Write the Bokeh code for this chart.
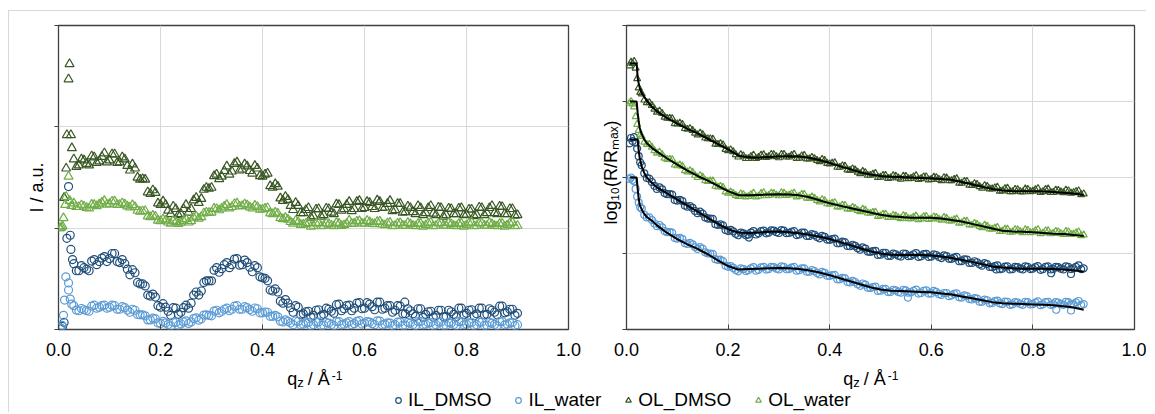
import numpy as np
from bokeh.plotting import figure
from bokeh.models import (ColumnDataSource, FixedTicker, NumeralTickFormatter, Label,
                          Legend, LegendItem, Range1d, CustomJSTickFormatter)
from bokeh.layouts import row, column
from bokeh.embed import file_html
from bokeh.resources import INLINE

# ------------------------------------------------------------------ data
SERIES = ["IL_DMSO", "IL_water", "OL_DMSO", "OL_water"]
X_TICKS = [0.0, 0.2, 0.4, 0.6, 0.8, 1.0]
LEFT_Y_TICKS = [0, 1, 2, 3]
RIGHT_Y_TICKS = [0, 1, 2, 3, 4]

Q_BAND = [0.03, 0.04, 0.05, 0.06, 0.07, 0.08, 0.09, 0.10,
          0.11, 0.12, 0.13, 0.14, 0.15, 0.16, 0.17, 0.18,
          0.19, 0.20, 0.21, 0.22, 0.23, 0.24, 0.25, 0.26,
          0.27, 0.28, 0.29, 0.30, 0.31, 0.32, 0.33, 0.34,
          0.35, 0.36, 0.37, 0.38, 0.39, 0.40, 0.41, 0.42,
          0.43, 0.44, 0.45, 0.46, 0.47, 0.48, 0.49, 0.50,
          0.51, 0.52, 0.53, 0.54, 0.55, 0.56, 0.57, 0.58,
          0.59, 0.60, 0.61, 0.62, 0.63, 0.64, 0.65, 0.66,
          0.67, 0.68, 0.69, 0.70, 0.71, 0.72, 0.73, 0.74,
          0.75, 0.76, 0.77, 0.78, 0.79, 0.80, 0.81, 0.82,
          0.83, 0.84, 0.85, 0.86, 0.87, 0.88, 0.89, 0.90]
Q_BAND2 = [0.035, 0.045, 0.055, 0.065, 0.075, 0.085, 0.095, 0.105,
           0.115, 0.125, 0.135, 0.145, 0.155, 0.165, 0.175, 0.185,
           0.195, 0.205, 0.215, 0.225, 0.235, 0.245, 0.255, 0.265,
           0.275, 0.285, 0.295, 0.305, 0.315, 0.325, 0.335, 0.345,
           0.355, 0.365, 0.375, 0.385, 0.395, 0.405, 0.415, 0.425,
           0.435, 0.445, 0.455, 0.465, 0.475, 0.485, 0.495, 0.505,
           0.515, 0.525, 0.535, 0.545, 0.555, 0.565, 0.575, 0.585,
           0.595, 0.605, 0.615, 0.625, 0.635, 0.645, 0.655, 0.665,
           0.675, 0.685, 0.695, 0.705, 0.715, 0.725, 0.735, 0.745,
           0.755, 0.765, 0.775, 0.785, 0.795, 0.805, 0.815, 0.825,
           0.835, 0.845, 0.855, 0.865, 0.875, 0.885, 0.895]

# ---- left panel (I / a.u.)
L_IL_DMSO_Q_LOW = [0.005, 0.008, 0.011, 0.0164, 0.0197, 0.023, 0.0243, 0.0275, 0.679]
L_IL_DMSO_I_LOW = [0.01, 0.03, 0.07, 0.90, 1.41, 0.93, 0.79, 0.69, 0.27]
L_IL_DMSO_I = [0.65, 0.58, 0.61, 0.58, 0.69, 0.67, 0.72, 0.70,
               0.75, 0.66, 0.65, 0.54, 0.56, 0.45, 0.43, 0.33,
               0.32, 0.22, 0.22, 0.14, 0.21, 0.17, 0.24, 0.26,
               0.37, 0.38, 0.48, 0.48, 0.61, 0.60, 0.66, 0.64,
               0.70, 0.64, 0.66, 0.57, 0.61, 0.51, 0.48, 0.38,
               0.37, 0.26, 0.26, 0.17, 0.22, 0.155, 0.18, 0.14,
               0.195, 0.15, 0.20, 0.16, 0.25, 0.205, 0.24, 0.21,
               0.265, 0.21, 0.25, 0.195, 0.27, 0.21, 0.235, 0.19,
               0.23, 0.155, 0.185, 0.13, 0.205, 0.15, 0.18, 0.14,
               0.19, 0.13, 0.175, 0.125, 0.21, 0.16, 0.195, 0.155,
               0.21, 0.15, 0.19, 0.145, 0.23, 0.175, 0.20, 0.16]
L_IL_DMSO_I2 = [0.58, 0.63, 0.595, 0.675, 0.64, 0.705, 0.67, 0.75,
                0.67, 0.69, 0.595, 0.59, 0.465, 0.45, 0.34, 0.35,
                0.235, 0.255, 0.18, 0.215, 0.15, 0.215, 0.21, 0.34,
                0.34, 0.465, 0.48, 0.585, 0.565, 0.64, 0.61, 0.695,
                0.635, 0.685, 0.615, 0.63, 0.52, 0.505, 0.39, 0.40,
                0.28, 0.295, 0.215, 0.235, 0.145, 0.175, 0.12, 0.19,
                0.135, 0.21, 0.18, 0.245, 0.185, 0.235, 0.185, 0.26,
                0.205, 0.265, 0.225, 0.27, 0.20, 0.235, 0.17, 0.235,
                0.155, 0.205, 0.155, 0.205, 0.12, 0.175, 0.12, 0.19,
                0.125, 0.19, 0.15, 0.21, 0.145, 0.19, 0.135, 0.21,
                0.145, 0.205, 0.17, 0.23, 0.165, 0.20, 0.14]

L_IL_WATER_Q_LOW = [0.003, 0.005, 0.007, 0.0098, 0.0118, 0.0144, 0.0197, 0.0197, 0.023, 0.026]
L_IL_WATER_I_LOW = [0.02, 0.01, 0.04, 0.14, 0.29, 0.52, 0.46, 0.39, 0.30, 0.25]
L_IL_WATER_I = [0.235, 0.185, 0.195, 0.18, 0.24, 0.22, 0.24, 0.22,
                0.235, 0.20, 0.215, 0.17, 0.19, 0.145, 0.135, 0.095,
                0.105, 0.06, 0.065, 0.035, 0.07, 0.055, 0.085, 0.075,
                0.115, 0.105, 0.145, 0.135, 0.19, 0.18, 0.21, 0.20,
                0.235, 0.20, 0.215, 0.18, 0.205, 0.165, 0.17, 0.13,
                0.125, 0.075, 0.081, 0.048, 0.08, 0.053, 0.068, 0.048,
                0.073, 0.043, 0.063, 0.038, 0.078, 0.053, 0.078, 0.058,
                0.088, 0.063, 0.073, 0.048, 0.083, 0.053, 0.063, 0.048,
                0.073, 0.043, 0.063, 0.038, 0.078, 0.053, 0.068, 0.048,
                0.073, 0.043, 0.063, 0.038, 0.078, 0.053, 0.068, 0.048,
                0.073, 0.043, 0.063, 0.038, 0.078, 0.053, 0.068, 0.048]
L_IL_WATER_I2 = [0.192, 0.207, 0.187, 0.23, 0.21, 0.235, 0.21, 0.24,
                 0.20, 0.225, 0.192, 0.20, 0.148, 0.145, 0.095, 0.112,
                 0.065, 0.08, 0.05, 0.072, 0.043, 0.075, 0.06, 0.108,
                 0.092, 0.142, 0.14, 0.182, 0.165, 0.20, 0.185, 0.23,
                 0.20, 0.225, 0.197, 0.212, 0.165, 0.173, 0.13, 0.14,
                 0.082, 0.095, 0.064, 0.084, 0.047, 0.066, 0.038, 0.073,
                 0.04, 0.07, 0.05, 0.078, 0.046, 0.066, 0.046, 0.081,
                 0.054, 0.078, 0.058, 0.086, 0.046, 0.066, 0.038, 0.073,
                 0.04, 0.07, 0.05, 0.078, 0.046, 0.066, 0.038, 0.073,
                 0.04, 0.07, 0.05, 0.078, 0.046, 0.066, 0.038, 0.073,
                 0.04, 0.07, 0.05, 0.078, 0.046, 0.066, 0.038]

L_OL_DMSO_Q_LOW = [0.011, 0.015, 0.0164, 0.0197, 0.0216, 0.0243, 0.0262]
L_OL_DMSO_I_LOW = [1.30, 1.59, 1.92, 2.47, 2.62, 1.92, 1.79]
L_OL_DMSO_I = [1.68, 1.62, 1.67, 1.62, 1.70, 1.66, 1.74, 1.67,
               1.73, 1.65, 1.68, 1.57, 1.59, 1.48, 1.48, 1.34,
               1.35, 1.23, 1.23, 1.14, 1.19, 1.14, 1.23, 1.19,
               1.30, 1.29, 1.40, 1.40, 1.53, 1.51, 1.61, 1.56,
               1.65, 1.58, 1.61, 1.54, 1.59, 1.51, 1.54, 1.40,
               1.41, 1.27, 1.28, 1.18, 1.22, 1.15, 1.20, 1.12,
               1.19, 1.13, 1.19, 1.14, 1.23, 1.19, 1.26, 1.19,
               1.27, 1.20, 1.25, 1.19, 1.26, 1.205, 1.27, 1.18,
               1.24, 1.16, 1.20, 1.14, 1.20, 1.15, 1.22, 1.13,
               1.20, 1.13, 1.19, 1.14, 1.20, 1.135, 1.185, 1.13,
               1.20, 1.15, 1.22, 1.14, 1.21, 1.14, 1.19, 1.13]
L_OL_DMSO_I2 = [1.605, 1.68, 1.635, 1.71, 1.645, 1.705, 1.65, 1.73,
                1.645, 1.70, 1.615, 1.63, 1.50, 1.485, 1.355, 1.375,
                1.245, 1.265, 1.175, 1.215, 1.13, 1.19, 1.155, 1.275,
                1.25, 1.38, 1.39, 1.515, 1.485, 1.565, 1.53, 1.635,
                1.57, 1.63, 1.565, 1.615, 1.515, 1.53, 1.415, 1.435,
                1.295, 1.31, 1.22, 1.25, 1.15, 1.18, 1.105, 1.185,
                1.115, 1.195, 1.155, 1.235, 1.175, 1.23, 1.17, 1.26,
                1.19, 1.26, 1.21, 1.275, 1.20, 1.24, 1.17, 1.24,
                1.155, 1.215, 1.16, 1.22, 1.13, 1.20, 1.145, 1.205,
                1.115, 1.195, 1.14, 1.195, 1.13, 1.185, 1.12, 1.205,
                1.13, 1.20, 1.15, 1.215, 1.14, 1.19, 1.125]

L_OL_WATER_Q_LOW = [0.002, 0.004, 0.006, 0.008, 0.0098, 0.0131, 0.0151, 0.0197, 0.022, 0.025]
L_OL_WATER_I_LOW = [1.00, 1.00, 1.01, 1.02, 1.10, 1.23, 1.31, 1.51, 1.27, 1.22]
L_OL_WATER_I = [1.245, 1.21, 1.215, 1.195, 1.23, 1.235, 1.27, 1.24,
                1.265, 1.23, 1.235, 1.205, 1.21, 1.165, 1.17, 1.11,
                1.115, 1.07, 1.075, 1.045, 1.06, 1.055, 1.09, 1.07,
                1.115, 1.11, 1.155, 1.155, 1.19, 1.195, 1.23, 1.21,
                1.245, 1.22, 1.225, 1.195, 1.21, 1.185, 1.20, 1.14,
                1.145, 1.09, 1.085, 1.045, 1.06, 1.035, 1.05, 1.025,
                1.05, 1.025, 1.04, 1.02, 1.045, 1.03, 1.075, 1.045,
                1.07, 1.045, 1.06, 1.04, 1.065, 1.03, 1.055, 1.025,
                1.05, 1.025, 1.04, 1.02, 1.045, 1.03, 1.055, 1.025,
                1.05, 1.025, 1.04, 1.02, 1.045, 1.03, 1.055, 1.025,
                1.05, 1.025, 1.04, 1.02, 1.045, 1.03, 1.055, 1.025]
L_OL_WATER_I2 = [1.21, 1.227, 1.202, 1.233, 1.218, 1.253, 1.232, 1.264,
                 1.23, 1.247, 1.217, 1.228, 1.173, 1.168, 1.117, 1.124,
                 1.075, 1.087, 1.057, 1.073, 1.043, 1.073, 1.057, 1.104,
                 1.095, 1.147, 1.152, 1.193, 1.178, 1.213, 1.197, 1.239,
                 1.215, 1.237, 1.207, 1.223, 1.183, 1.193, 1.147, 1.154,
                 1.10, 1.102, 1.062, 1.073, 1.033, 1.043, 1.015, 1.049,
                 1.02, 1.047, 1.027, 1.053, 1.023, 1.043, 1.043, 1.067,
                 1.047, 1.073, 1.043, 1.063, 1.037, 1.049, 1.02, 1.047,
                 1.027, 1.053, 1.023, 1.043, 1.017, 1.049, 1.02, 1.047,
                 1.027, 1.053, 1.023, 1.043, 1.017, 1.049, 1.02, 1.047,
                 1.027, 1.053, 1.023, 1.043, 1.017, 1.049, 1.02]

# ---- right panel (log10(R/Rmax), offset curves)
R_Q_LOW = [0.006, 0.009, 0.012, 0.015, 0.018, 0.021, 0.024, 0.027]

R_OL_DMSO_LOW = [3.47, 3.52, 3.50, 3.53, 3.44, 3.30, 3.18, 3.12]
R_OL_DMSO = [3.10, 2.985, 2.95, 2.86, 2.845, 2.78, 2.775, 2.705,
             2.70, 2.635, 2.62, 2.56, 2.565, 2.51, 2.505, 2.435,
             2.43, 2.355, 2.34, 2.27, 2.285, 2.25, 2.295, 2.265,
             2.30, 2.275, 2.30, 2.26, 2.305, 2.27, 2.305, 2.255,
             2.29, 2.245, 2.25, 2.21, 2.225, 2.18, 2.195, 2.135,
             2.15, 2.095, 2.10, 2.05, 2.065, 2.03, 2.055, 2.005,
             2.03, 1.995, 2.02, 1.98, 2.015, 1.99, 2.025, 1.985,
             2.01, 1.975, 2.00, 1.96, 1.995, 1.96, 1.985, 1.925,
             1.95, 1.895, 1.91, 1.86, 1.885, 1.85, 1.875, 1.825,
             1.86, 1.815, 1.84, 1.81, 1.845, 1.82, 1.855, 1.815,
             1.85, 1.805, 1.83, 1.80, 1.825, 1.80, 1.825, 1.785]
R_OL_DMSO2 = [3.02, 2.985, 2.90, 2.875, 2.795, 2.78, 2.71, 2.715,
              2.645, 2.645, 2.585, 2.585, 2.52, 2.51, 2.44, 2.445,
              2.37, 2.365, 2.30, 2.30, 2.25, 2.275, 2.25, 2.295,
              2.265, 2.305, 2.275, 2.305, 2.27, 2.29, 2.25, 2.285,
              2.245, 2.265, 2.225, 2.24, 2.185, 2.19, 2.135, 2.155,
              2.10, 2.115, 2.07, 2.08, 2.03, 2.045, 2.00, 2.03,
              1.99, 2.025, 1.995, 2.02, 1.985, 2.01, 1.975, 2.01,
              1.97, 2.005, 1.975, 2.00, 1.96, 1.975, 1.925, 1.95,
              1.90, 1.92, 1.88, 1.895, 1.85, 1.865, 1.82, 1.855,
              1.815, 1.845, 1.815, 1.85, 1.815, 1.84, 1.805, 1.845,
              1.805, 1.835, 1.81, 1.835, 1.795, 1.815, 1.775]

R_OL_WATER_LOW = [2.98, 3.00, 2.97, 2.93, 2.80, 2.70, 2.62, 2.56]
R_OL_WATER = [2.54, 2.435, 2.40, 2.32, 2.305, 2.24, 2.235, 2.155,
              2.15, 2.075, 2.07, 2.00, 2.005, 1.95, 1.955, 1.875,
              1.87, 1.795, 1.79, 1.75, 1.775, 1.75, 1.795, 1.755,
              1.80, 1.765, 1.79, 1.76, 1.795, 1.77, 1.795, 1.755,
              1.78, 1.725, 1.73, 1.68, 1.695, 1.65, 1.67, 1.615,
              1.635, 1.585, 1.595, 1.55, 1.57, 1.53, 1.545, 1.495,
              1.52, 1.475, 1.495, 1.46, 1.49, 1.46, 1.495, 1.455,
              1.49, 1.455, 1.475, 1.44, 1.465, 1.43, 1.455, 1.405,
              1.425, 1.375, 1.385, 1.34, 1.36, 1.32, 1.345, 1.295,
              1.32, 1.285, 1.31, 1.275, 1.305, 1.28, 1.315, 1.27,
              1.30, 1.265, 1.285, 1.25, 1.285, 1.255, 1.285, 1.245]
R_OL_WATER2 = [2.465, 2.435, 2.355, 2.335, 2.255, 2.24, 2.165, 2.165,
               2.09, 2.09, 2.03, 2.025, 1.96, 1.955, 1.885, 1.885,
               1.81, 1.81, 1.765, 1.785, 1.745, 1.775, 1.745, 1.79,
               1.76, 1.795, 1.77, 1.80, 1.765, 1.785, 1.745, 1.78,
               1.73, 1.745, 1.70, 1.71, 1.655, 1.663, 1.613, 1.638,
               1.588, 1.608, 1.568, 1.583, 1.533, 1.54, 1.49, 1.52,
               1.475, 1.503, 1.473, 1.498, 1.458, 1.48, 1.445, 1.485,
               1.45, 1.483, 1.453, 1.475, 1.43, 1.445, 1.40, 1.428,
               1.378, 1.398, 1.358, 1.373, 1.323, 1.335, 1.29, 1.32,
               1.28, 1.315, 1.288, 1.313, 1.275, 1.30, 1.263, 1.298,
               1.26, 1.293, 1.263, 1.29, 1.253, 1.273, 1.235]

R_IL_DMSO_LOW = [2.45, 2.52, 2.48, 2.53, 2.46, 2.38, 2.28, 2.20]
R_IL_DMSO = [2.16, 1.995, 1.94, 1.85, 1.845, 1.78, 1.775, 1.695,
             1.69, 1.615, 1.60, 1.53, 1.525, 1.46, 1.455, 1.375,
             1.37, 1.295, 1.29, 1.24, 1.265, 1.25, 1.295, 1.265,
             1.30, 1.275, 1.30, 1.27, 1.30, 1.27, 1.295, 1.25,
             1.275, 1.23, 1.245, 1.20, 1.22, 1.18, 1.195, 1.135,
             1.15, 1.095, 1.10, 1.05, 1.065, 1.02, 1.035, 0.985,
             1.01, 0.97, 0.99, 0.96, 0.995, 0.97, 1.005, 0.965,
             0.995, 0.96, 0.98, 0.94, 0.965, 0.93, 0.955, 0.90,
             0.92, 0.875, 0.885, 0.84, 0.86, 0.82, 0.845, 0.80,
             0.83, 0.795, 0.82, 0.79, 0.825, 0.80, 0.835, 0.795,
             0.83, 0.795, 0.82, 0.79, 0.825, 0.805, 0.845, 0.805]
R_IL_DMSO2 = [2.055, 1.985, 1.89, 1.87, 1.795, 1.78, 1.705, 1.705,
              1.63, 1.625, 1.56, 1.55, 1.475, 1.46, 1.385, 1.385,
              1.31, 1.31, 1.26, 1.275, 1.24, 1.275, 1.25, 1.295,
              1.265, 1.305, 1.28, 1.308, 1.268, 1.285, 1.243, 1.275,
              1.23, 1.255, 1.218, 1.233, 1.183, 1.19, 1.135, 1.155,
              1.10, 1.115, 1.07, 1.08, 1.025, 1.03, 0.98, 1.01,
              0.968, 0.998, 0.97, 1.00, 0.965, 0.99, 0.955, 0.993,
              0.955, 0.988, 0.955, 0.975, 0.93, 0.945, 0.898, 0.923,
              0.875, 0.898, 0.858, 0.873, 0.823, 0.835, 0.793, 0.828,
              0.79, 0.825, 0.80, 0.83, 0.795, 0.82, 0.785, 0.825,
              0.79, 0.825, 0.80, 0.83, 0.795, 0.825, 0.795]
R_IL_DMSO_Q_EXTRA = [0.241, 0.728, 0.836, 0.875]
R_IL_DMSO_EXTRA = [1.21, 0.79, 0.74, 0.73]

R_IL_WATER_LOW = [1.98, 2.00, 1.97, 1.95, 1.85, 1.75, 1.67, 1.61]
R_IL_WATER = [1.59, 1.475, 1.44, 1.36, 1.345, 1.28, 1.275, 1.195,
              1.19, 1.125, 1.12, 1.06, 1.065, 1.00, 0.995, 0.915,
              0.90, 0.825, 0.81, 0.765, 0.795, 0.78, 0.82, 0.785,
              0.825, 0.795, 0.82, 0.79, 0.825, 0.795, 0.825, 0.78,
              0.805, 0.76, 0.77, 0.725, 0.745, 0.705, 0.72, 0.66,
              0.675, 0.62, 0.625, 0.575, 0.59, 0.545, 0.565, 0.51,
              0.535, 0.495, 0.515, 0.485, 0.515, 0.49, 0.525, 0.48,
              0.515, 0.475, 0.495, 0.455, 0.48, 0.45, 0.475, 0.42,
              0.44, 0.395, 0.405, 0.365, 0.385, 0.35, 0.38, 0.335,
              0.365, 0.33, 0.355, 0.325, 0.36, 0.335, 0.37, 0.33,
              0.365, 0.33, 0.355, 0.325, 0.36, 0.335, 0.375, 0.335]
R_IL_WATER2 = [1.51, 1.475, 1.395, 1.375, 1.295, 1.28, 1.205, 1.205,
               1.135, 1.14, 1.085, 1.085, 1.015, 1.00, 0.925, 0.92,
               0.84, 0.835, 0.783, 0.803, 0.77, 0.803, 0.773, 0.818,
               0.788, 0.825, 0.80, 0.83, 0.793, 0.813, 0.773, 0.805,
               0.76, 0.783, 0.743, 0.758, 0.708, 0.715, 0.66, 0.68,
               0.625, 0.64, 0.595, 0.605, 0.55, 0.558, 0.508, 0.535,
               0.493, 0.523, 0.495, 0.523, 0.485, 0.51, 0.473, 0.51,
               0.473, 0.508, 0.465, 0.48, 0.438, 0.47, 0.423, 0.448,
               0.40, 0.413, 0.365, 0.393, 0.345, 0.373, 0.343, 0.368,
               0.325, 0.36, 0.335, 0.365, 0.33, 0.355, 0.32, 0.36,
               0.325, 0.36, 0.335, 0.365, 0.33, 0.358, 0.325]
R_IL_WATER_Q_EXTRA = [0.554, 0.846, 0.875]
R_IL_WATER_EXTRA = [0.42, 0.26, 0.25]

FIT_Q = [0.007, 0.020, 0.022, 0.024, 0.026, 0.030, 0.035, 0.040, 0.050, 0.060,
         0.080, 0.100, 0.120, 0.140, 0.160, 0.180, 0.200, 0.220, 0.240, 0.260,
         0.280, 0.300, 0.320, 0.340, 0.360, 0.380, 0.400, 0.420, 0.440, 0.460,
         0.480, 0.500, 0.520, 0.540, 0.560, 0.580, 0.600, 0.620, 0.640, 0.660,
         0.680, 0.700, 0.720, 0.740, 0.760, 0.780, 0.800, 0.820, 0.840, 0.860,
         0.880, 0.900]
FIT_OL_DMSO = [3.50, 3.50, 3.31, 3.24, 3.18, 3.11, 3.06, 3.01, 2.93, 2.87,
               2.78, 2.71, 2.64, 2.58, 2.51, 2.44, 2.37, 2.29, 2.265, 2.26,
               2.27, 2.275, 2.28, 2.275, 2.26, 2.23, 2.19, 2.15, 2.11, 2.07,
               2.04, 2.02, 2.01, 2.005, 2.00, 1.995, 1.99, 1.98, 1.97, 1.94,
               1.91, 1.88, 1.85, 1.83, 1.82, 1.82, 1.82, 1.815, 1.81, 1.80,
               1.79, 1.77]
FIT_OL_WATER = [3.00, 3.00, 2.85, 2.74, 2.65, 2.57, 2.50, 2.45, 2.39, 2.34,
                2.25, 2.17, 2.09, 2.02, 1.96, 1.89, 1.82, 1.77, 1.765, 1.77,
                1.775, 1.78, 1.775, 1.765, 1.74, 1.70, 1.66, 1.63, 1.60, 1.57,
                1.54, 1.51, 1.49, 1.48, 1.47, 1.47, 1.47, 1.46, 1.44, 1.42,
                1.39, 1.36, 1.33, 1.30, 1.29, 1.285, 1.28, 1.27, 1.26, 1.255,
                1.245, 1.23]
FIT_IL_DMSO = [2.50, 2.50, 2.50, 2.35, 2.26, 2.14, 2.06, 2.00, 1.93, 1.87,
               1.79, 1.71, 1.63, 1.55, 1.47, 1.39, 1.32, 1.275, 1.27, 1.275,
               1.285, 1.29, 1.28, 1.265, 1.245, 1.22, 1.19, 1.15, 1.11, 1.07,
               1.03, 1.00, 0.985, 0.98, 0.98, 0.98, 0.975, 0.96, 0.94, 0.915,
               0.89, 0.86, 0.83, 0.815, 0.805, 0.80, 0.80, 0.80, 0.795, 0.79,
               0.78, 0.76]
FIT_IL_WATER = [2.00, 2.00, 1.85, 1.72, 1.64, 1.58, 1.52, 1.48, 1.43, 1.37,
                1.27, 1.19, 1.12, 1.06, 0.99, 0.91, 0.835, 0.79, 0.795, 0.80,
                0.805, 0.81, 0.805, 0.795, 0.775, 0.75, 0.715, 0.675, 0.635, 0.595,
                0.555, 0.525, 0.51, 0.505, 0.50, 0.495, 0.49, 0.475, 0.46, 0.435,
                0.41, 0.385, 0.36, 0.345, 0.34, 0.335, 0.33, 0.325, 0.32, 0.305,
                0.29, 0.26]

# ------------------------------------------------------------------ style
FONT = "Liberation Sans"
COLORS = {"IL_DMSO": "#1F4E79", "IL_water": "#5B9BD5",
          "OL_DMSO": "#385723", "OL_water": "#70AD47"}
MARKERS = {"IL_DMSO": "circle", "IL_water": "circle",
           "OL_DMSO": "triangle", "OL_water": "triangle"}
FRAME = "#404040"
GRID = "#d9d9d9"
STRIP_H = 48         # strip holding the x titles and the legend
NB = "\u00a0"


def style_panel(p, yticks, ylabel, label_standoff):
    p.outline_line_color = FRAME
    p.outline_line_width = 1.3
    p.xgrid.ticker = FixedTicker(ticks=[t for t in X_TICKS if 0 < t < 1])
    p.ygrid.ticker = FixedTicker(ticks=[t for t in yticks if 0 < t < yticks[-1]])
    p.grid.grid_line_color = GRID
    p.grid.grid_line_width = 1
    ax = p.xaxis[0]
    ax.ticker = FixedTicker(ticks=X_TICKS)
    ax.formatter = NumeralTickFormatter(format="0.0")
    ax.axis_line_color = None
    ax.major_tick_in = 5
    ax.major_tick_out = 0
    ax.major_tick_line_color = FRAME
    ax.minor_tick_line_color = None
    ax.major_label_text_font = FONT
    ax.major_label_text_font_size = "18px"
    ax.major_label_text_color = "black"
    ax.major_label_standoff = 13
    ay = p.yaxis[0]
    ay.ticker = FixedTicker(ticks=yticks)
    ay.formatter = CustomJSTickFormatter(code="return ''")
    ay.axis_line_color = None
    ay.major_tick_in = 0
    ay.major_tick_out = 4
    ay.major_tick_line_color = FRAME
    ay.minor_tick_line_color = None
    ay.major_label_standoff = 0
    ay.axis_label = ylabel
    ay.axis_label_text_font = FONT
    ay.axis_label_text_font_size = "18px"
    ay.axis_label_text_font_style = "normal"
    ay.axis_label_text_color = "black"
    ay.axis_label_standoff = label_standoff


def add_text(p, text, x, y, size):
    p.add_layout(Label(x=x, y=y, text=text, text_font=FONT, text_font_size=size,
                       text_color="black", text_align="left", text_baseline="alphabetic"))


def scatter(p, name, q, v, size):
    src = ColumnDataSource(data=dict(q=q, v=v))
    return p.scatter("q", "v", source=src, marker=MARKERS[name], size=size,
                     line_color=COLORS[name], fill_color=None, line_width=1.2)


# ------------------------------------------------------------------ left panel
p1 = figure(frame_width=510, frame_height=304, x_range=Range1d(0, 1), y_range=Range1d(0, 3),
            min_border_left=49, min_border_right=29, min_border_top=14, min_border_bottom=35,
            output_backend="svg", toolbar_location=None)
# trailing no-break spaces move the rotated title down, as in the original
style_panel(p1, LEFT_Y_TICKS, "I / a.u." + NB * 4, 8)

left_data = {
    "IL_DMSO": (L_IL_DMSO_Q_LOW + Q_BAND + Q_BAND2, L_IL_DMSO_I_LOW + L_IL_DMSO_I + L_IL_DMSO_I2),
    "IL_water": (L_IL_WATER_Q_LOW + Q_BAND + Q_BAND2, L_IL_WATER_I_LOW + L_IL_WATER_I + L_IL_WATER_I2),
    "OL_DMSO": (L_OL_DMSO_Q_LOW + Q_BAND + Q_BAND2, L_OL_DMSO_I_LOW + L_OL_DMSO_I + L_OL_DMSO_I2),
    "OL_water": (L_OL_WATER_Q_LOW + Q_BAND + Q_BAND2, L_OL_WATER_I_LOW + L_OL_WATER_I + L_OL_WATER_I2),
}
for name in SERIES:
    q, v = left_data[name]
    scatter(p1, name, q, v, 8 if MARKERS[name] == "circle" else 9)

# ------------------------------------------------------------------ right panel
p2 = figure(frame_width=508, frame_height=304, x_range=Range1d(0, 1), y_range=Range1d(0, 4),
            min_border_left=29, min_border_right=12, min_border_top=13, min_border_bottom=36,
            output_backend="svg", toolbar_location=None)
style_panel(p2, RIGHT_Y_TICKS, NB * 2 + "log\u2081\u2080(R/R\u2098\u2090\u2093)", 2)

right_data = {
    "IL_DMSO": (R_Q_LOW + Q_BAND + Q_BAND2 + R_IL_DMSO_Q_EXTRA,
                R_IL_DMSO_LOW + R_IL_DMSO + R_IL_DMSO2 + R_IL_DMSO_EXTRA),
    "IL_water": (R_Q_LOW + Q_BAND + Q_BAND2 + R_IL_WATER_Q_EXTRA,
                 R_IL_WATER_LOW + R_IL_WATER + R_IL_WATER2 + R_IL_WATER_EXTRA),
    "OL_DMSO": (R_Q_LOW + Q_BAND + Q_BAND2, R_OL_DMSO_LOW + R_OL_DMSO + R_OL_DMSO2),
    "OL_water": (R_Q_LOW + Q_BAND + Q_BAND2, R_OL_WATER_LOW + R_OL_WATER + R_OL_WATER2),
}
for name in SERIES:
    q, v = right_data[name]
    scatter(p2, name, q, v, 7)

for fit in (FIT_IL_DMSO, FIT_IL_WATER, FIT_OL_DMSO, FIT_OL_WATER):
    p2.line(FIT_Q, fit, line_color="black", line_width=2)

# ------------------------------------------------------------------ x titles + legend strip
total_w = 588 + 549
strip = figure(width=total_w, height=STRIP_H, x_range=Range1d(0, total_w),
               y_range=Range1d(0, STRIP_H), x_axis_location=None, y_axis_location=None,
               min_border=0, output_backend="svg", toolbar_location=None)
strip.grid.visible = False
strip.outline_line_color = None
for x0 in (277.7, 833.7):
    add_text(strip, "q", x0, STRIP_H - 14.5, "18px")
    add_text(strip, "z", x0 + 10.0, STRIP_H - 17.5, "13px")
    add_text(strip, "/ Å", x0 + 20.5, STRIP_H - 14.5, "18px")
    add_text(strip, "-1", x0 + 44.5, STRIP_H - 10.5, "12px")

items = []
for name in SERIES:
    r = strip.scatter(x=[-100], y=[-100], marker=MARKERS[name], size=6,
                      line_color=COLORS[name], fill_color=None, line_width=1.2)
    items.append(LegendItem(label=name, renderers=[r]))
legend = Legend(items=items, orientation="horizontal", location=(382, 1),
                glyph_width=14, glyph_height=14, label_standoff=3, spacing=20,
                padding=0, margin=0, border_line_color=None, background_fill_alpha=0,
                label_text_font=FONT, label_text_font_size="19px", label_text_color="black")
strip.add_layout(legend)

layout = column(row(p1, p2), strip, margin=(10, 0, 0, 8),
                styles={"border-top": "1px solid #d9d9d9", "border-left": "1px solid #d9d9d9"})

open("out.html", "w").write(file_html(layout, INLINE))
